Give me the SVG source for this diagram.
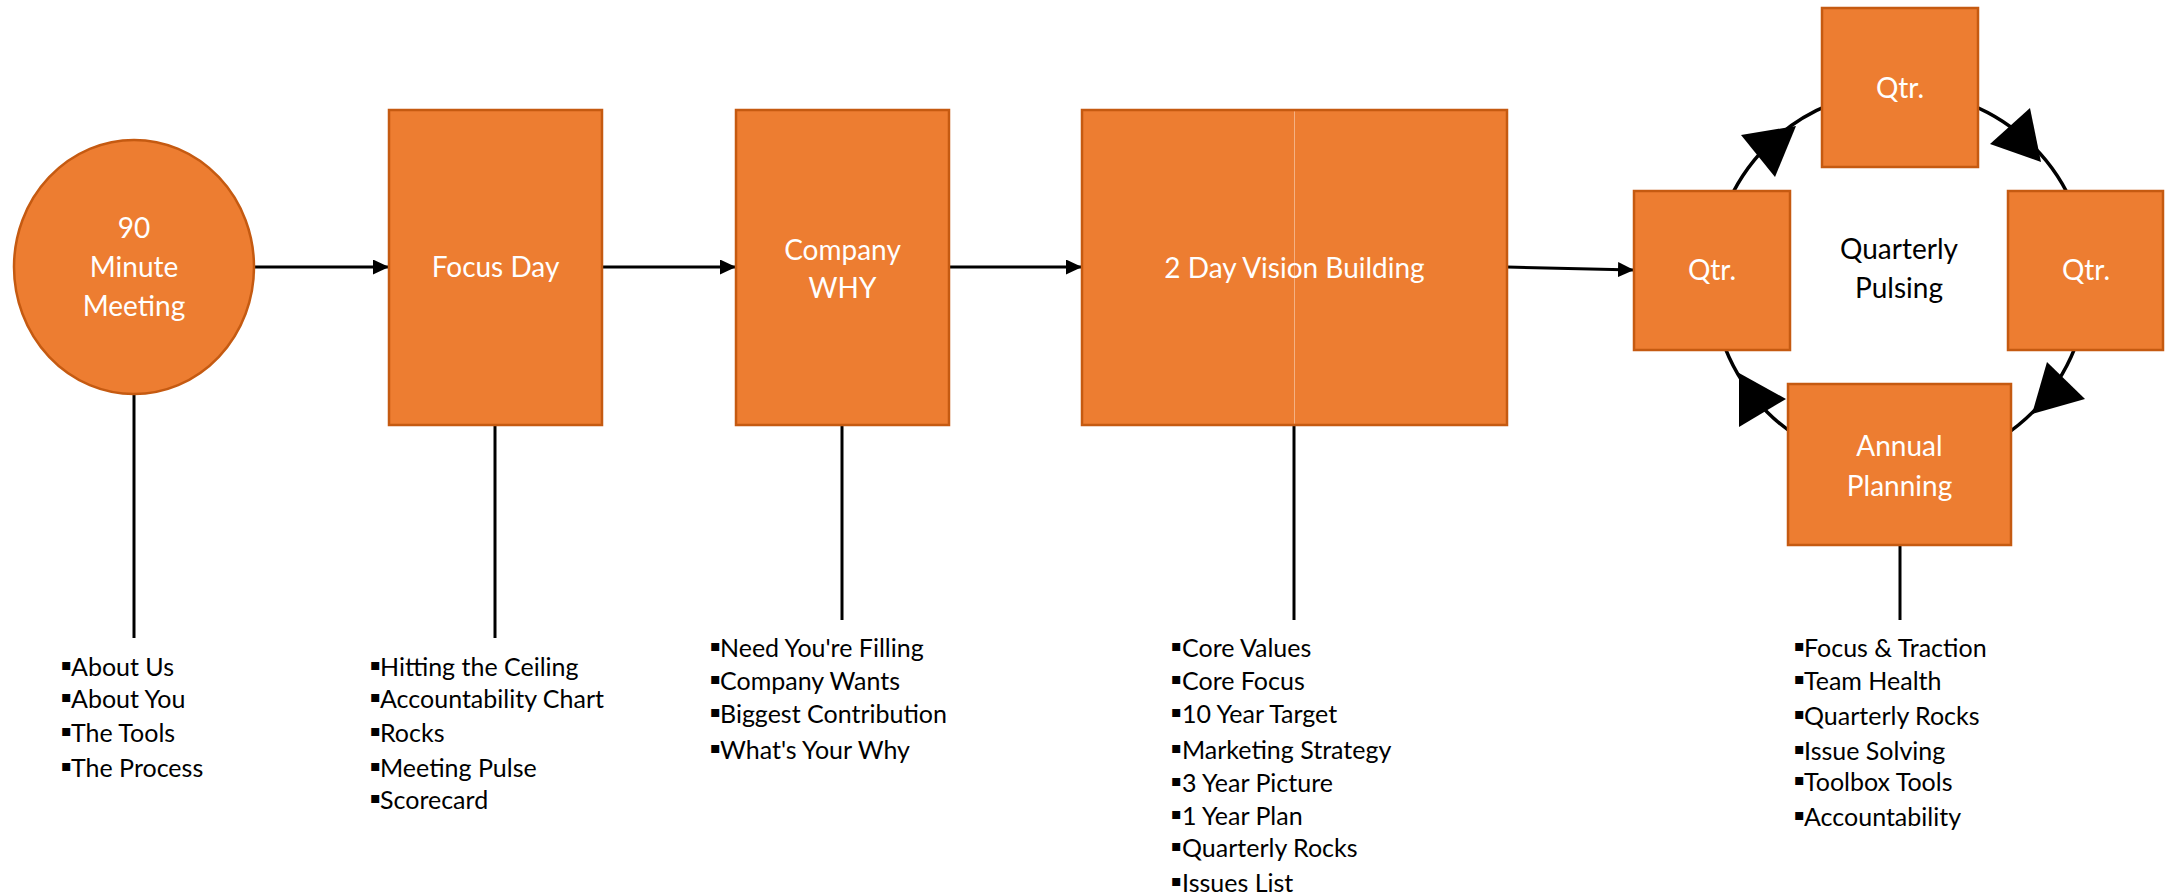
<svg xmlns="http://www.w3.org/2000/svg" width="2165" height="895" viewBox="0 0 2165 895">
  <defs>
    <style>
      .node { fill: #ED7D31; stroke: #C55A11; stroke-width: 2.5; }
      .lbl { font-family: Lato, "Open Sans", "DejaVu Sans", sans-serif; font-size: 28px; fill: #FFFFFF; text-anchor: middle; }
      .dark { fill: #000000; }
      .li { font-family: Lato, "Open Sans", "DejaVu Sans", sans-serif; font-size: 25px; fill: #000000; }
      .b { font-family: "DejaVu Sans", sans-serif; font-size: 16px; }
      .conn { fill: none; stroke: #000000; stroke-width: 3; }
      .ring { fill: none; stroke: #000000; stroke-width: 3.5; }
      .head { fill: #000000; stroke: none; }
      .divider { stroke: #F4B183; stroke-width: 1; }
    </style>
    <marker id="arr" markerUnits="userSpaceOnUse" markerWidth="16" markerHeight="15" refX="16" refY="7.5" orient="auto">
      <path d="M0,0 L16,7.5 L0,15 Z" fill="#000000"/>
    </marker>
  </defs>
  <rect width="2165" height="895" fill="#FFFFFF"/>

  <g id="connectors">
    <circle class="ring" cx="1900" cy="279" r="188"/>
    <polygon class="head" points="1796,126 1741,135 1775,177"/>
    <polygon class="head" points="2041,162 1990,144 2030,108"/>
    <polygon class="head" points="2032,414 2047,362 2085,399"/>
    <polygon class="head" points="1739,373 1786,399 1739,427"/>
    <path class="conn" d="M254,267 L389,267" marker-end="url(#arr)"/>
    <path class="conn" d="M602,267 L736,267" marker-end="url(#arr)"/>
    <path class="conn" d="M949,267 L1082,267" marker-end="url(#arr)"/>
    <path class="conn" d="M1507,267 L1634,270" marker-end="url(#arr)"/>
    <path class="conn" d="M134,393 V638"/>
    <path class="conn" d="M495,425 V638"/>
    <path class="conn" d="M842,425 V620"/>
    <path class="conn" d="M1294,425 V620"/>
    <path class="conn" d="M1900,545 V620"/>
  </g>

  <g id="node-90min">
    <ellipse class="node" cx="134" cy="267" rx="120" ry="127"/>
    <text class="lbl"><tspan x="134" y="238">90</tspan><tspan x="134" y="277">Minute</tspan><tspan x="134" y="316">Meeting</tspan></text>
  </g>

  <g id="node-focus">
    <rect class="node" x="389" y="110" width="213" height="315"/>
    <text class="lbl" x="495.5" y="277">Focus Day</text>
  </g>

  <g id="node-why">
    <rect class="node" x="736" y="110" width="213" height="315"/>
    <text class="lbl"><tspan x="842.5" y="260">Company</tspan><tspan x="842.5" y="298">WHY</tspan></text>
  </g>

  <g id="node-vision">
    <rect class="node" x="1082" y="110" width="425" height="315"/>
    <line class="divider" x1="1294.5" y1="111.5" x2="1294.5" y2="423.5"/>
    <text class="lbl" x="1294.5" y="278">2 Day Vision Building</text>
  </g>

  <g id="node-qtr-top">
    <rect class="node" x="1822" y="8" width="156" height="159"/>
    <text class="lbl" x="1900" y="98">Qtr.</text>
  </g>

  <g id="node-qtr-left">
    <rect class="node" x="1634" y="191" width="156" height="159"/>
    <text class="lbl" x="1712" y="280">Qtr.</text>
  </g>

  <g id="node-qtr-right">
    <rect class="node" x="2008" y="191" width="155" height="159"/>
    <text class="lbl" x="2086" y="280">Qtr.</text>
  </g>

  <g id="node-annual">
    <rect class="node" x="1788" y="384" width="223" height="161"/>
    <text class="lbl"><tspan x="1899.5" y="456">Annual</tspan><tspan x="1899.5" y="496">Planning</tspan></text>
  </g>

  <g id="label-quarterly">
    <text class="lbl dark"><tspan x="1899" y="259">Quarterly</tspan><tspan x="1899" y="298">Pulsing</tspan></text>
  </g>

  <g id="list-90min">
    <text class="li" y="676"><tspan class="b" x="61" dy="-6">▪</tspan><tspan x="71" dy="6">About Us</tspan></text>
    <text class="li" y="708"><tspan class="b" x="61" dy="-6">▪</tspan><tspan x="71" dy="6">About You</tspan></text>
    <text class="li" y="742"><tspan class="b" x="61" dy="-6">▪</tspan><tspan x="71" dy="6">The Tools</tspan></text>
    <text class="li" y="777"><tspan class="b" x="61" dy="-6">▪</tspan><tspan x="71" dy="6">The Process</tspan></text>
  </g>

  <g id="list-focus">
    <text class="li" y="676"><tspan class="b" x="370" dy="-6">▪</tspan><tspan x="380" dy="6">Hitting the Ceiling</tspan></text>
    <text class="li" y="708"><tspan class="b" x="370" dy="-6">▪</tspan><tspan x="380" dy="6">Accountability Chart</tspan></text>
    <text class="li" y="742"><tspan class="b" x="370" dy="-6">▪</tspan><tspan x="380" dy="6">Rocks</tspan></text>
    <text class="li" y="777"><tspan class="b" x="370" dy="-6">▪</tspan><tspan x="380" dy="6">Meeting Pulse</tspan></text>
    <text class="li" y="809"><tspan class="b" x="370" dy="-6">▪</tspan><tspan x="380" dy="6">Scorecard</tspan></text>
  </g>

  <g id="list-why">
    <text class="li" y="657"><tspan class="b" x="710" dy="-6">▪</tspan><tspan x="720" dy="6">Need You're Filling</tspan></text>
    <text class="li" y="690"><tspan class="b" x="710" dy="-6">▪</tspan><tspan x="720" dy="6">Company Wants</tspan></text>
    <text class="li" y="723"><tspan class="b" x="710" dy="-6">▪</tspan><tspan x="720" dy="6">Biggest Contribution</tspan></text>
    <text class="li" y="759"><tspan class="b" x="710" dy="-6">▪</tspan><tspan x="720" dy="6">What's Your Why</tspan></text>
  </g>

  <g id="list-vision">
    <text class="li" y="657"><tspan class="b" x="1171" dy="-6">▪</tspan><tspan x="1182" dy="6">Core Values</tspan></text>
    <text class="li" y="690"><tspan class="b" x="1171" dy="-6">▪</tspan><tspan x="1182" dy="6">Core Focus</tspan></text>
    <text class="li" y="723"><tspan class="b" x="1171" dy="-6">▪</tspan><tspan x="1182" dy="6">10 Year Target</tspan></text>
    <text class="li" y="759"><tspan class="b" x="1171" dy="-6">▪</tspan><tspan x="1182" dy="6">Marketing Strategy</tspan></text>
    <text class="li" y="792"><tspan class="b" x="1171" dy="-6">▪</tspan><tspan x="1182" dy="6">3 Year Picture</tspan></text>
    <text class="li" y="825"><tspan class="b" x="1171" dy="-6">▪</tspan><tspan x="1182" dy="6">1 Year Plan</tspan></text>
    <text class="li" y="857"><tspan class="b" x="1171" dy="-6">▪</tspan><tspan x="1182" dy="6">Quarterly Rocks</tspan></text>
    <text class="li" y="892"><tspan class="b" x="1171" dy="-6">▪</tspan><tspan x="1182" dy="6">Issues List</tspan></text>
  </g>

  <g id="list-annual">
    <text class="li" y="657"><tspan class="b" x="1794" dy="-6">▪</tspan><tspan x="1804" dy="6">Focus &amp; Traction</tspan></text>
    <text class="li" y="690"><tspan class="b" x="1794" dy="-6">▪</tspan><tspan x="1804" dy="6">Team Health</tspan></text>
    <text class="li" y="725"><tspan class="b" x="1794" dy="-6">▪</tspan><tspan x="1804" dy="6">Quarterly Rocks</tspan></text>
    <text class="li" y="760"><tspan class="b" x="1794" dy="-6">▪</tspan><tspan x="1804" dy="6">Issue Solving</tspan></text>
    <text class="li" y="791"><tspan class="b" x="1794" dy="-6">▪</tspan><tspan x="1804" dy="6">Toolbox Tools</tspan></text>
    <text class="li" y="826"><tspan class="b" x="1794" dy="-6">▪</tspan><tspan x="1804" dy="6">Accountability</tspan></text>
  </g>
</svg>
